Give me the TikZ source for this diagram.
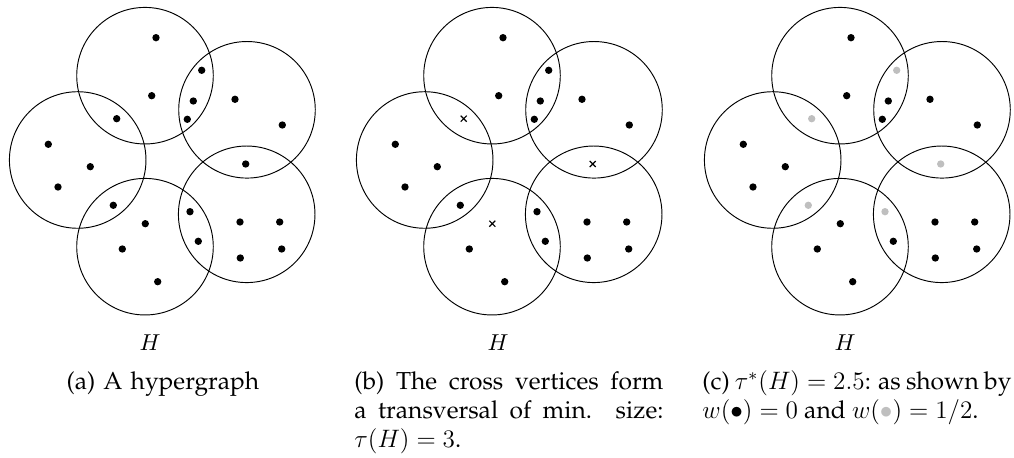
\documentclass[tikz,border=0pt]{standalone}
\usepackage[T1]{fontenc}
\renewcommand{\rmdefault}{ppl}
\usepackage{xcolor}
\definecolor{lgray}{gray}{0.75}
\tikzset{
  hedge/.style={draw=black, line width=0.45pt},
  vdot/.style={fill=black},
  gdot/.style={fill=lgray},
  xmark/.style={draw=black, line width=0.55pt},
  caplab/.style={anchor=base west, inner sep=0pt, text width=147.1pt, align=justify, font=\fontsize{11.7}{13.6}\selectfont},
  hlab/.style={anchor=base, inner sep=0pt, font=\fontsize{10.5}{12}\selectfont}
}
\begin{document}
\begin{tikzpicture}[x=0.476pt, y=-0.476pt]
\useasboundingbox (0,0) rectangle (1014,458);
\foreach \ox/\pn in {0/1, 347/2, 695/3} {
  \begin{scope}[xshift=\ox*0.476pt]
    % hyperedges
    \foreach \cx/\cy in {145/75.7, 77.7/160, 247/109.8, 246.7/214.3, 145/246.7}
      \draw[hedge] (\cx,\cy) circle (32.5pt);
    % always-black vertices
    \foreach \px/\py in {156/37.7, 151.7/95.7, 193.3/101, 187.3/119.3, 235/99.3, 282.3/125,
                         48.3/144.3, 90.3/166.7, 58/187, 122.3/249, 157.7/281.7,
                         198.3/241.3, 240/222, 279.7/222, 281.7/249, 240.3/258}
      \fill[vdot] (\px,\py) circle (1.75pt);
  \end{scope}
}
% panel (a): remaining vertices black
\foreach \px/\py in {116.7/118.7, 201.7/70.3, 245.7/164, 113.3/205.3, 145.3/223.7, 190/211.7}
  \fill[vdot] (\px,\py) circle (1.75pt);
% panel (b): crosses and black
\begin{scope}[xshift=347*0.476pt]
  \foreach \px/\py in {201.7/70.3, 113.3/205.3, 190/211.7}
    \fill[vdot] (\px,\py) circle (1.75pt);
  \foreach \px/\py in {116.7/118.7, 245.7/164, 145.3/223.7}
    \draw[xmark] (\px-3,\py-3) -- (\px+3,\py+3) (\px-3,\py+3) -- (\px+3,\py-3);
\end{scope}
% panel (c): gray and black
\begin{scope}[xshift=695*0.476pt]
  \fill[vdot] (145.3,223.7) circle (1.75pt);
  \foreach \px/\py in {116.7/118.7, 201.7/70.3, 245.7/164, 113.3/205.3, 190/211.7}
    \fill[gdot] (\px,\py) circle (1.75pt);
\end{scope}
% labels
\node[hlab] (ha) at (150,351) {$H$};
\node[hlab] (hb) at (498,351) {$H$};
\node[hlab] (hc) at (845,351) {$H$};
\node[caplab, align=center] (capa) at (8,390) {(a) A hypergraph};
\node[caplab] (capb) at (354,390) {(b) The cross vertices form a transversal of min. size: $\tau(H) = 3$.};
\node[caplab] (capc) at (702,390) {(c) $\tau^*(H) = 2.5$: as shown by $w(\bullet) = 0$ and $w(\textcolor{lgray}{\bullet}) = 1/2$.};
\end{tikzpicture}
\end{document}
